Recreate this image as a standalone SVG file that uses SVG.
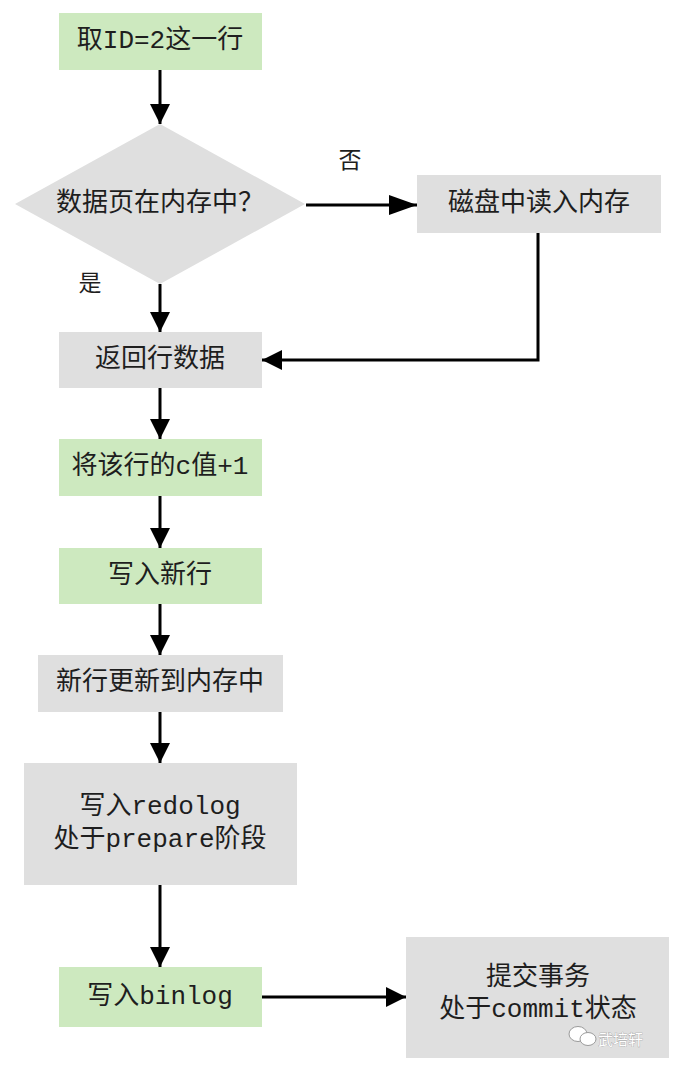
<svg xmlns="http://www.w3.org/2000/svg" width="674" height="1068" viewBox="0 0 674 1068">
<style>
.g{fill:#cde9bf}
.y{fill:#dfdfdf}
.t{font-family:"Liberation Mono","Noto Sans CJK SC",monospace;font-size:26px;fill:#1e1e1e;text-anchor:middle;dominant-baseline:central}
.l{font-family:"Noto Sans CJK SC",sans-serif;font-size:23px;fill:#1e1e1e;text-anchor:middle;dominant-baseline:central}
.c{fill:none;stroke:#000;stroke-width:3}
.wm{font-family:"Noto Sans CJK SC",sans-serif;font-size:15px;fill:#fff;stroke:#9a9a9a;stroke-width:0.6;paint-order:stroke}
</style>
<defs>
<marker id="a" viewBox="0 0 20 20" markerWidth="20" markerHeight="20" markerUnits="userSpaceOnUse" refX="20" refY="10" orient="auto"><path d="M0,0L20,10L0,20z" fill="#000"/></marker>
<marker id="b" viewBox="0 0 28 20" markerWidth="28" markerHeight="20" markerUnits="userSpaceOnUse" refX="28" refY="10" orient="auto"><path d="M0,0L28,10L0,20z" fill="#000"/></marker>
</defs>
<rect width="674" height="1068" fill="#fff"/>
<g id="n1"><rect class="g" x="59" y="13" width="203" height="57"/><text class="t" x="160" y="41">取ID=2这一行</text></g>
<g id="n2"><polygon class="y" points="160,124 305,204 160,284 15,204"/><text class="t" x="160" y="204">数据页在内存中？</text></g>
<g id="n3"><rect class="y" x="417" y="175" width="244" height="58"/><text class="t" x="539" y="204">磁盘中读入内存</text></g>
<g id="n4"><rect class="y" x="59" y="332" width="203" height="56"/><text class="t" x="160" y="360">返回行数据</text></g>
<g id="n5"><rect class="g" x="59" y="439" width="203" height="57"/><text class="t" x="160" y="467">将该行的c值+1</text></g>
<g id="n6"><rect class="g" x="59" y="548" width="203" height="56"/><text class="t" x="160" y="576">写入新行</text></g>
<g id="n7"><rect class="y" x="38" y="655" width="245" height="57"/><text class="t" x="160" y="683">新行更新到内存中</text></g>
<g id="n8"><rect class="y" x="24" y="763" width="273" height="122"/><text class="t" x="160" y="807">写入redolog</text><text class="t" x="160" y="840">处于prepare阶段</text></g>
<g id="n9"><rect class="g" x="59" y="967" width="203" height="60"/><text class="t" x="160" y="997">写入binlog</text></g>
<g id="n10"><rect class="y" x="406" y="937" width="263" height="121"/><text class="t" x="538" y="978">提交事务</text><text class="t" x="538" y="1010">处于commit状态</text></g>
<g id="labels"><text class="l" x="90" y="281">是</text><text class="l" x="350" y="158">否</text></g>
<g id="connectors">
<path class="c" d="M160,70V124" marker-end="url(#a)"/>
<path class="c" d="M306,205H417" marker-end="url(#b)"/>
<path class="c" d="M160,284V332" marker-end="url(#a)"/>
<path class="c" d="M538,233V360H262" marker-end="url(#a)"/>
<path class="c" d="M160,388V439" marker-end="url(#a)"/>
<path class="c" d="M160,496V548" marker-end="url(#a)"/>
<path class="c" d="M160,604V655" marker-end="url(#a)"/>
<path class="c" d="M160,712V763" marker-end="url(#a)"/>
<path class="c" d="M160,885V967" marker-end="url(#a)"/>
<path class="c" d="M262,997H406" marker-end="url(#a)"/>
</g>
<g id="watermark">
<ellipse cx="578" cy="1034" rx="9" ry="7.5" fill="#fff" stroke="#9a9a9a" stroke-width="1"/>
<ellipse cx="588" cy="1039" rx="8" ry="6.5" fill="#fff" stroke="#9a9a9a" stroke-width="1"/>
<text class="wm" x="598" y="1045">武培轩</text>
</g>
</svg>
